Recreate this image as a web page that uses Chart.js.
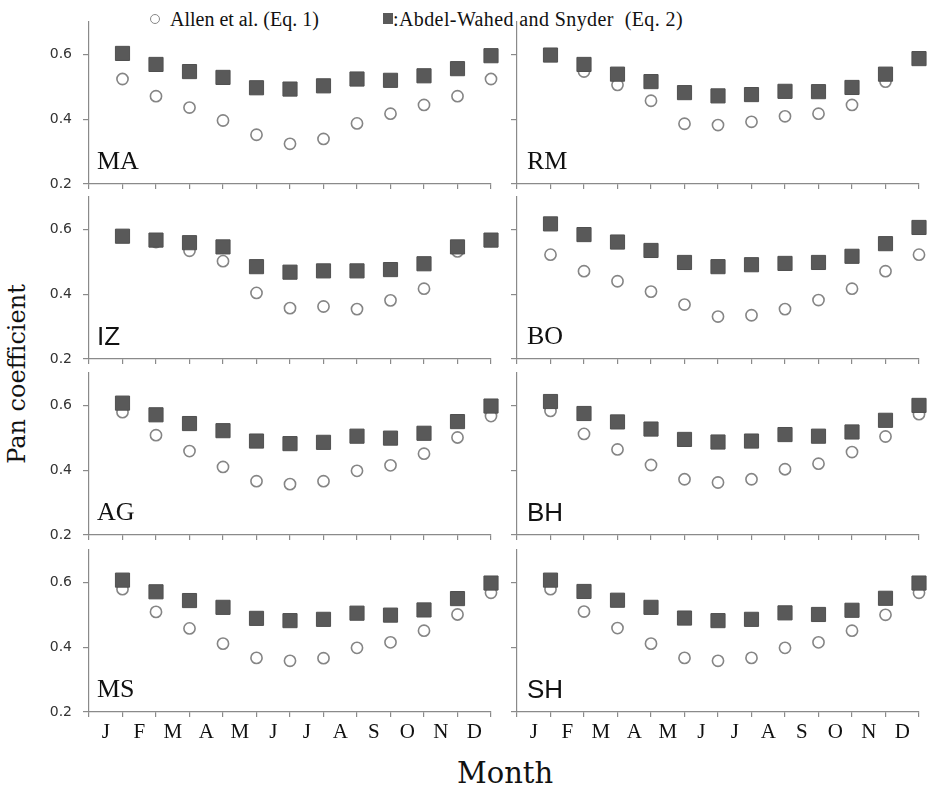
<!DOCTYPE html>
<html>
<head>
<meta charset="utf-8">
<script src="https://cdn.jsdelivr.net/npm/chart.js@4"></script>
<style>
  html, body { margin: 0; padding: 0; background: #fff; }
  #wrap { position: relative; width: 930px; height: 785px; overflow: hidden; background: #fff; }
  #wrap canvas { position: absolute; }
  .txt { position: absolute; white-space: nowrap; line-height: 1; color: #111; }
</style>
</head>
<body>
<div id="wrap">
  <div class="txt" style="left:150px;top:14px;width:10px;height:10px;box-sizing:border-box;border:1.5px solid #888;border-radius:50%;"></div>
  <div class="txt" style="left:170px;top:8px;font:20px 'Liberation Serif';">Allen et al. (Eq. 1)</div>
  <div class="txt" style="left:383px;top:13px;width:10px;height:11px;background:#5a5a5a;"></div>
  <div class="txt" style="left:393px;top:8px;font:20px 'Liberation Serif';letter-spacing:0.4px;">:Abdel-Wahed and Snyder&nbsp; (Eq. 2)</div>
  <div class="txt" style="left:16.7px;top:374px;font:24px 'DejaVu Serif';transform:translate(-50%,-50%) rotate(-90deg);">Pan coefficient</div>
  <div class="txt" style="left:457px;top:756px;font:29px 'DejaVu Serif';">Month</div>
</div>
<script>
// mois (axe x) et stations
const months = ['J', 'F', 'M', 'A', 'M', 'J', 'J', 'A', 'S', 'O', 'N', 'D'];
const stations = ['MA', 'RM', 'IZ', 'BO', 'AG', 'BH', 'MS', 'SH'];
const yTicks = [0.2, 0.4, 0.6];

// Allen et al. (Eq. 1) - cercles
const allenMA = [0.524, 0.471, 0.436, 0.396, 0.352, 0.324, 0.339, 0.387, 0.417, 0.444, 0.471, 0.524];
const allenRM = [0.598, 0.547, 0.506, 0.457, 0.386, 0.382, 0.392, 0.409, 0.417, 0.444, 0.516, 0.587];
const allenIZ = [0.578, 0.561, 0.534, 0.502, 0.404, 0.357, 0.362, 0.354, 0.381, 0.417, 0.532, 0.565];
const allenBO = [0.522, 0.471, 0.440, 0.408, 0.368, 0.331, 0.335, 0.354, 0.382, 0.417, 0.471, 0.522];
const allenAG = [0.579, 0.508, 0.459, 0.410, 0.366, 0.357, 0.366, 0.398, 0.415, 0.451, 0.501, 0.567];
const allenBH = [0.583, 0.512, 0.464, 0.416, 0.372, 0.362, 0.372, 0.403, 0.420, 0.456, 0.504, 0.573];
const allenMS = [0.579, 0.509, 0.458, 0.411, 0.367, 0.358, 0.366, 0.398, 0.415, 0.451, 0.501, 0.568];
const allenSH = [0.579, 0.510, 0.459, 0.411, 0.367, 0.358, 0.367, 0.398, 0.415, 0.451, 0.500, 0.568];

// Abdel-Wahed and Snyder (Eq. 2) - carrés
const snyderMA = [0.603, 0.569, 0.547, 0.529, 0.497, 0.493, 0.503, 0.524, 0.520, 0.534, 0.556, 0.596];
const snyderRM = [0.598, 0.569, 0.539, 0.516, 0.482, 0.472, 0.476, 0.486, 0.485, 0.498, 0.539, 0.587];
const snyderIZ = [0.579, 0.567, 0.559, 0.546, 0.485, 0.468, 0.472, 0.472, 0.476, 0.494, 0.546, 0.567];
const snyderBO = [0.617, 0.584, 0.561, 0.535, 0.498, 0.485, 0.491, 0.495, 0.498, 0.517, 0.556, 0.606];
const snyderAG = [0.607, 0.571, 0.544, 0.522, 0.490, 0.482, 0.486, 0.505, 0.499, 0.514, 0.550, 0.598];
const snyderBH = [0.612, 0.575, 0.549, 0.527, 0.495, 0.487, 0.490, 0.510, 0.505, 0.518, 0.554, 0.600];
const snyderMS = [0.607, 0.571, 0.544, 0.523, 0.489, 0.482, 0.486, 0.505, 0.499, 0.515, 0.550, 0.598];
const snyderSH = [0.607, 0.572, 0.545, 0.523, 0.490, 0.482, 0.486, 0.506, 0.501, 0.514, 0.551, 0.598];

const allenSeries = [allenMA, allenRM, allenIZ, allenBO, allenAG, allenBH, allenMS, allenSH];
const snyderSeries = [snyderMA, snyderRM, snyderIZ, snyderBO, snyderAG, snyderBH, snyderMS, snyderSH];

// géométrie des panneaux
const colLeft = [89, 517];
const rowTop = [22, 197, 373, 550];
const plotW = 402, plotH = 162;
const YW = 70, TP = 12, RP = 14, XH = 40;
const axisColor = '#8a8a8a';
const sansLabels = ['IZ', 'BH', 'SH'];
const xSteps = Array.from({ length: 25 }, (_, k) => k / 2);

const wrap = document.getElementById('wrap');

stations.forEach((nome, i) => {
    const col = i % 2;
    const row = Math.floor(i / 2);
    const bottom = row === 3;

    const cv = document.createElement('canvas');
    cv.width = YW + plotW + RP;
    cv.height = TP + plotH + XH;
    cv.style.left = (colLeft[col] - YW) + 'px';
    cv.style.top = (rowTop[row] - TP) + 'px';
    wrap.appendChild(cv);

    new Chart(cv, {
        type: 'scatter',
        data: {
            datasets: [{
                label: 'Abdel-Wahed and Snyder (Eq. 2)',
                data: snyderSeries[i].map((v, k) => ({ x: k + 1, y: v })),
                pointStyle: 'rect',
                pointRadius: 10,
                pointBackgroundColor: '#595959',
                pointBorderColor: '#505050',
                pointBorderWidth: 1,
                clip: false
            }, {
                label: 'Allen et al. (Eq. 1)',
                data: allenSeries[i].map((v, k) => ({ x: k + 1, y: v })),
                pointStyle: 'circle',
                pointRadius: 5.6,
                pointBackgroundColor: '#fff',
                pointBorderColor: '#858585',
                pointBorderWidth: 1.6,
                clip: false
            }]
        },
        options: {
            responsive: false,
            animation: false,
            events: [],
            layout: { autoPadding: false, padding: { top: TP, right: RP, left: 0, bottom: 0 } },
            plugins: { legend: { display: false }, tooltip: { enabled: false } },
            scales: {
                x: {
                    type: 'linear', min: 0, max: 12,
                    afterBuildTicks: ax => { ax.ticks = xSteps.map(v => ({ value: v })); },
                    afterFit: ax => {
                        ax.height = XH;
                        ax.paddingLeft = ax.paddingRight = 0;
                    },
                    grid: {
                        drawOnChartArea: false, tickLength: 5, lineWidth: 1.2,
                        tickColor: c => Number.isInteger(c.tick.value) ? axisColor : 'rgba(0,0,0,0)'
                    },
                    border: { color: axisColor, width: 1.2 },
                    ticks: {
                        autoSkip: false, maxRotation: 0, padding: 3, maxTicksLimit: 30,
                        color: '#111',
                        font: { family: 'Liberation Serif', size: 21 },
                        callback: v => (bottom && !Number.isInteger(v)) ? months[Math.floor(v)] : ''
                    }
                },
                y: {
                    min: 0.2, max: 0.7,
                    afterBuildTicks: ax => { ax.ticks = yTicks.map(v => ({ value: v })); },
                    afterFit: ax => {
                        ax.width = YW;
                        ax.paddingTop = ax.paddingBottom = 0;
                    },
                    grid: { drawOnChartArea: false, tickLength: 6, tickColor: axisColor, lineWidth: 1.2 },
                    border: { color: axisColor, width: 1.2 },
                    ticks: {
                        padding: 11, color: '#333',
                        font: { family: 'DejaVu Sans', size: 14 },
                        callback: v => col === 0 ? v.toFixed(1) : ''
                    }
                }
            }
        }
    });

    // étiquette de la station
    const lab = document.createElement('div');
    lab.className = 'txt';
    lab.textContent = nome;
    const fam = sansLabels.includes(nome) ? "'Liberation Sans'" : "'Liberation Serif'";
    lab.style.font = '26px ' + fam;
    lab.style.left = (colLeft[col] + (col === 0 ? 8 : 10)) + 'px';
    lab.style.top = (rowTop[row] + plotH - 16 - 22) + 'px';
    wrap.appendChild(lab);
});
</script>
</body>
</html>
